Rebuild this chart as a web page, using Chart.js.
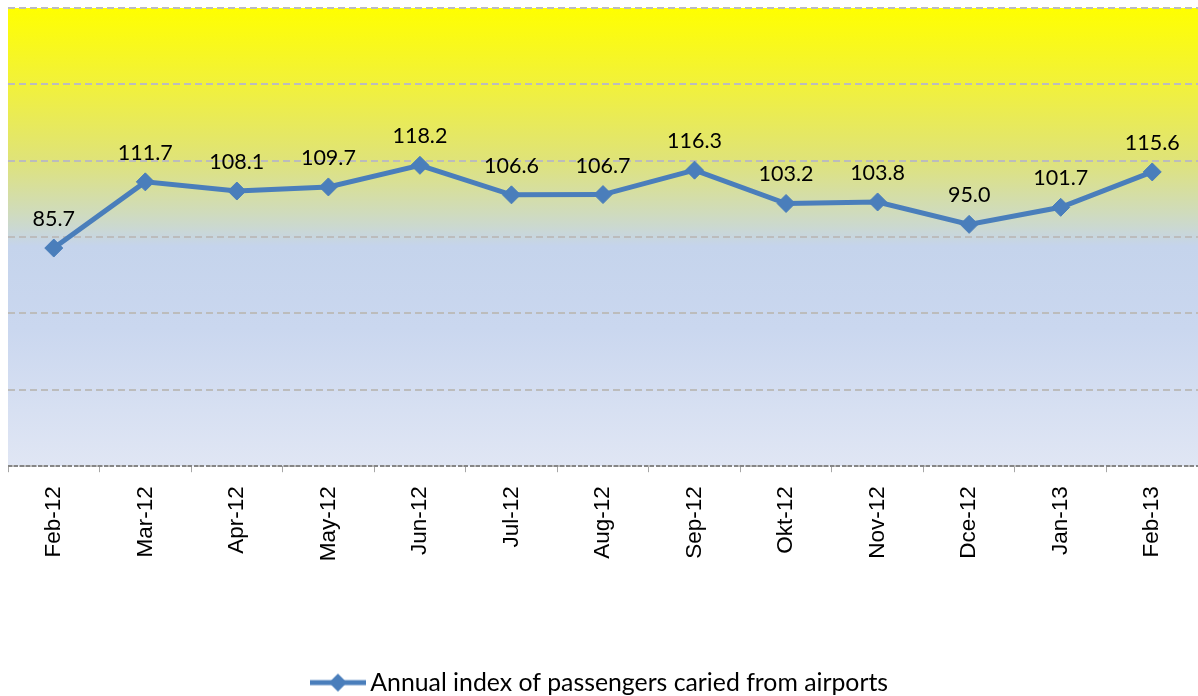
<!DOCTYPE html>
<html>
<head>
<meta charset="utf-8">
<script src="https://cdn.jsdelivr.net/npm/chart.js@4.4.1/dist/chart.umd.min.js"></script>
<style>
html,body{margin:0;padding:0;background:#fff;}
#wrap{width:1198px;height:696px;}
</style>
</head>
<body>
<div id="wrap"><canvas id="c" width="1198" height="696"></canvas></div>
<script>
const categories = ['Feb-12','Mar-12','Apr-12','May-12','Jun-12','Jul-12','Aug-12','Sep-12','Okt-12','Nov-12','Dce-12','Jan-13','Feb-13'];
const seriesName = 'Annual index of passengers caried from airports';
const values = [85.7, 111.7, 108.1, 109.7, 118.2, 106.6, 106.7, 116.3, 103.2, 103.8, 95.0, 101.7, 115.6];
const yMin = 0, yMax = 180, yStep = 30;

const LINE = '#4a7ebb';

// legend sample: line with diamond marker
const sample = document.createElement('canvas');
sample.width = 56; sample.height = 22;
(function(){
  const c = sample.getContext('2d');
  c.strokeStyle = LINE; c.lineWidth = 5;
  c.beginPath(); c.moveTo(0, 11); c.lineTo(56, 11); c.stroke();
  c.fillStyle = LINE;
  c.beginPath(); c.moveTo(28, 2); c.lineTo(37, 11); c.lineTo(28, 20); c.lineTo(19, 11); c.closePath(); c.fill();
})();

const bgPlugin = {
  id: 'bgGrad',
  beforeDraw(chart) {
    const {ctx, chartArea: a} = chart;
    const g = ctx.createLinearGradient(0, a.top, 0, a.bottom);
    g.addColorStop(0, '#ffff00');
    g.addColorStop(0.17, '#f1f13c');
    g.addColorStop(0.33, '#dfe378');
    g.addColorStop(0.45, '#cfdbbe');
    g.addColorStop(0.52, '#c5d4ec');
    g.addColorStop(0.7, '#cad7ef');
    g.addColorStop(1, '#e0e6f4');
    ctx.save();
    ctx.fillStyle = g;
    ctx.fillRect(a.left, a.top, a.right - a.left, a.bottom - a.top);
    ctx.restore();
  }
};

const axisLinePlugin = {
  id: 'axisLine',
  afterDraw(chart) {
    const {ctx, chartArea: a} = chart;
    const y = Math.round(chart.scales.y.getPixelForValue(yMin));
    ctx.save();
    ctx.strokeStyle = '#868686';
    ctx.lineWidth = 2;
    ctx.setLineDash([4, 2]);
    ctx.beginPath();
    ctx.moveTo(a.left, y);
    ctx.lineTo(a.right, y);
    ctx.stroke();
    ctx.restore();
  }
};

const labelPlugin = {
  id: 'valLabels',
  afterDatasetsDraw(chart) {
    const {ctx} = chart;
    const meta = chart.getDatasetMeta(0);
    ctx.save();
    ctx.font = '21.5px Lato, "Open Sans", sans-serif';
    ctx.fillStyle = '#000';
    ctx.textAlign = 'center';
    ctx.textBaseline = 'alphabetic';
    meta.data.forEach((p, i) => {
      ctx.fillText(values[i].toFixed(1), p.x, p.y - 22);
    });
    ctx.restore();
  }
};

new Chart(document.getElementById('c'), {
  type: 'line',
  data: {
    labels: categories,
    datasets: [{
      label: seriesName,
      data: values,
      borderColor: LINE,
      backgroundColor: LINE,
      borderWidth: 5,
      pointStyle: 'rectRot',
      pointRadius: 9,
      pointHoverRadius: 9,
      pointBackgroundColor: LINE,
      pointBorderColor: LINE,
      pointBorderWidth: 1,
      tension: 0,
      fill: false,
      clip: false
    }]
  },
  options: {
    responsive: false,
    animation: false,
    events: [],
    layout: { autoPadding: false, padding: { left: 8, top: 8, right: 0, bottom: -9 } },
    scales: {
      x: {
        offset: true,
        grid: {
          display: true,
          offset: true,
          drawOnChartArea: false,
          drawTicks: true,
          tickLength: 6,
          color: '#a6a6a6',
          lineWidth: 1
        },
        border: { display: false },
        ticks: {
          color: '#000',
          font: { family: '"Liberation Sans", Arial, sans-serif', size: 22.5 },
          minRotation: 90,
          maxRotation: 90,
          autoSkip: false,
          padding: 14
        },
        afterFit(scale) {
          scale.height = 200;
          scale.paddingLeft = 0; scale.paddingRight = 0;
        }
      },
      y: {
        min: yMin,
        max: yMax,
        ticks: { display: false, stepSize: yStep },
        grid: {
          color: '#bcbcbc',
          lineWidth: 2,
          drawTicks: false
        },
        border: { display: false, dash: [7, 4] },
        afterFit(scale) {
          scale.width = 0;
          scale.paddingTop = 0; scale.paddingBottom = 0;
        }
      }
    },
    plugins: {
      legend: {
        position: 'bottom',
        labels: {
          color: '#000',
          font: { family: 'Lato, "Open Sans", sans-serif', size: 24.8 },
          padding: 4,
          usePointStyle: true,
          pointStyleWidth: 40,
          boxHeight: 20,
          generateLabels(chart) {
            return [{
              text: seriesName,
              fillStyle: LINE,
              strokeStyle: LINE,
              lineWidth: 0,
              pointStyle: sample,
              datasetIndex: 0
            }];
          }
        }
      },
      tooltip: { enabled: false }
    }
  },
  plugins: [bgPlugin, labelPlugin, axisLinePlugin]
});
</script>
</body>
</html>
